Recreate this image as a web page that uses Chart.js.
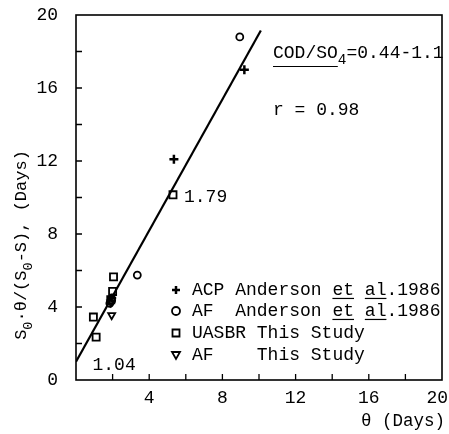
<!DOCTYPE html>
<html>
<head>
<meta charset="utf-8">
<script src="https://cdn.jsdelivr.net/npm/chart.js@4"></script>
<style>
  html, body { margin: 0; padding: 0; background: #fff; }
  #wrap { width: 449px; height: 434px; }
</style>
</head>
<body>
<div id="wrap"><canvas id="plot" width="449" height="434"></canvas></div>
<script>
// values
const acpX = [1.95, 5.35, 9.2];
const acpY = [4.5, 12.1, 17.0];
const afAndX = [1.85, 1.95, 3.35, 8.95];
const afAndY = [4.2, 4.35, 5.75, 18.8];
const uasbrX = [0.95, 1.1, 1.9, 2.0, 2.05, 5.3];
const uasbrY = [3.45, 2.35, 4.4, 4.85, 5.65, 10.15];
const afStudyX = [1.95, 1.9];
const afStudyY = [3.55, 4.25];
// regression line end points
const fitX = [0, 10.1];
const fitY = [1.0, 19.15];
const xTicks = [4, 8, 12, 16, 20];
const yTicks = [0, 4, 8, 12, 16, 20];

const FONT = "'Liberation Mono', 'DejaVu Sans Mono', monospace";
const pts = (xs, ys) => xs.map((x, i) => ({ x: x, y: ys[i] }));

// little helper for text with subscripts / underlines
function drawRich(ctx, x, y, parts, size, ulOff) {
  let cx = x;
  const off = ulOff || 0.55;
  parts.forEach(p => {
    const s = p.sub ? size * 0.8 : size;
    ctx.font = s + 'px ' + FONT;
    const dy = p.sub ? size * 0.42 : 0;
    ctx.fillText(p.t, cx, y + dy);
    const w = ctx.measureText(p.t).width;
    if (p.ul) {
      ctx.beginPath();
      ctx.lineWidth = 1.2;
      ctx.moveTo(cx, y + size * off);
      ctx.lineTo(cx + w, y + size * off);
      ctx.stroke();
    }
    cx += w;
  });
  return cx - x;
}
function richWidth(ctx, parts, size) {
  let w = 0;
  parts.forEach(p => {
    ctx.font = (p.sub ? size * 0.8 : size) + 'px ' + FONT;
    w += ctx.measureText(p.t).width;
  });
  return w;
}

function symbol(ctx, kind, x, y) {
  ctx.save();
  ctx.strokeStyle = '#000';
  ctx.beginPath();
  if (kind === 'cross') {
    ctx.lineWidth = 2.5;
    ctx.moveTo(x - 4, y); ctx.lineTo(x + 4, y);
    ctx.moveTo(x, y - 4); ctx.lineTo(x, y + 4);
  } else if (kind === 'circle') {
    ctx.lineWidth = 1.8;
    ctx.arc(x, y, 4, 0, Math.PI * 2);
  } else if (kind === 'rect') {
    ctx.lineWidth = 1.8;
    ctx.rect(x - 3.5, y - 3.5, 7, 7);
  } else {
    ctx.lineWidth = 1.8;
    ctx.moveTo(x - 4, y - 3); ctx.lineTo(x + 4, y - 3); ctx.lineTo(x, y + 4); ctx.closePath();
  }
  ctx.stroke();
  ctx.restore();
}

const decor = {
  id: 'decor',
  afterDraw(chart) {
    const ctx = chart.ctx;
    const a = chart.chartArea;
    const xs = chart.scales.x, ys = chart.scales.y;
    ctx.save();
    ctx.strokeStyle = '#000';
    ctx.fillStyle = '#000';
    // frame
    ctx.lineWidth = 1.6;
    ctx.strokeRect(a.left, a.top, a.right - a.left, a.bottom - a.top);
    // inward ticks every 2
    ctx.lineWidth = 1.3;
    ctx.beginPath();
    for (let v = 2; v < 20; v += 2) {
      const px = xs.getPixelForValue(v);
      ctx.moveTo(px, a.bottom); ctx.lineTo(px, a.bottom - 6);
      const py = ys.getPixelForValue(v);
      ctx.moveTo(a.left, py); ctx.lineTo(a.left + 6, py);
    }
    ctx.stroke();

    // x tick labels (last one kept inside the canvas)
    ctx.font = '18px ' + FONT;
    ctx.textBaseline = 'middle';
    xTicks.forEach(v => {
      const px = xs.getPixelForValue(v);
      const w = ctx.measureText(String(v)).width;
      ctx.textAlign = 'center';
      const cx = Math.min(px, chart.width - w / 2 - 1);
      ctx.fillText(String(v), cx, a.bottom + 18);
    });

    ctx.textAlign = 'left';
    // annotations
    drawRich(ctx, xs.getPixelForValue(5.9), ys.getPixelForValue(10.0), [{ t: '1.79' }], 18);
    drawRich(ctx, xs.getPixelForValue(0.9), ys.getPixelForValue(0.8), [{ t: '1.04' }], 18);
    drawRich(ctx, 273, 53, [
      { t: 'COD/SO', ul: true },
      { t: '4', sub: true },
      { t: '=0.44-1.1' }
    ], 18, 0.75);
    drawRich(ctx, 273, 110, [{ t: 'r = 0.98' }], 18);

    // legend
    const rows = [
      { k: 'cross', y: 290, parts: [{ t: 'ACP Anderson ' }, { t: 'et', ul: true }, { t: ' ' }, { t: 'al', ul: true }, { t: '.1986' }] },
      { k: 'circle', y: 311, parts: [{ t: 'AF  Anderson ' }, { t: 'et', ul: true }, { t: ' ' }, { t: 'al', ul: true }, { t: '.1986' }] },
      { k: 'rect', y: 333, parts: [{ t: 'UASBR This Study' }] },
      { k: 'tri', y: 355, parts: [{ t: 'AF    This Study' }] }
    ];
    rows.forEach(r => {
      symbol(ctx, r.k, 176, r.y);
      drawRich(ctx, 192, r.y, r.parts, 18, 0.47);
    });

    // x title
    drawRich(ctx, 361, 421, [{ t: '\u03b8 (Days)' }], 17.5);

    // y title, rotated
    const yt = [
      { t: 'S' }, { t: '0', sub: true }, { t: '\u00b7\u03b8/(S' }, { t: '0', sub: true }, { t: '-S), (Days)' }
    ];
    ctx.translate(21, 245);
    ctx.rotate(-Math.PI / 2);
    const w = richWidth(ctx, yt, 17);
    drawRich(ctx, -w / 2, 0, yt, 17);
    ctx.restore();
  }
};

new Chart(document.getElementById('plot'), {
  type: 'scatter',
  data: {
    datasets: [
      {
        type: 'line',
        label: 'fit',
        data: pts(fitX, fitY),
        borderColor: '#000',
        borderWidth: 2.2,
        pointRadius: 0,
        fill: false
      },
      {
        label: 'ACP Anderson et al.1986',
        data: pts(acpX, acpY),
        pointStyle: 'cross',
        pointRadius: 4.5,
        borderColor: '#000',
        borderWidth: 2.5
      },
      {
        label: 'AF Anderson et al.1986',
        data: pts(afAndX, afAndY),
        pointStyle: 'circle',
        pointRadius: 3.5,
        borderColor: '#000',
        backgroundColor: 'rgba(0,0,0,0)',
        borderWidth: 1.8
      },
      {
        label: 'UASBR This Study',
        data: pts(uasbrX, uasbrY),
        pointStyle: 'rect',
        pointRadius: 5,
        borderColor: '#000',
        backgroundColor: 'rgba(0,0,0,0)',
        borderWidth: 1.8
      },
      {
        label: 'AF This Study',
        data: pts(afStudyX, afStudyY),
        pointStyle: 'triangle',
        rotation: 180,
        pointRadius: 4,
        borderColor: '#000',
        backgroundColor: 'rgba(0,0,0,0)',
        borderWidth: 1.8
      }
    ]
  },
  options: {
    responsive: false,
    animation: false,
    layout: { padding: { top: 15, right: 3, left: 0, bottom: 0 } },
    plugins: {
      legend: { display: false },
      tooltip: { enabled: false }
    },
    scales: {
      x: {
        type: 'linear',
        min: 0, max: 20,
        grid: { display: false },
        border: { display: false },
        afterFit: s => { s.height = 54; s.paddingLeft = 0; s.paddingRight = 0; },
        afterBuildTicks: s => { s.ticks = xTicks.map(v => ({ value: v })); },
        ticks: { display: false }
      },
      y: {
        type: 'linear',
        min: 0, max: 20,
        grid: { display: false },
        border: { display: false },
        afterFit: s => { s.width = 76; s.paddingTop = 0; s.paddingBottom = 0; },
        afterBuildTicks: s => { s.ticks = yTicks.map(v => ({ value: v })); },
        ticks: {
          color: '#000',
          padding: 10,
          font: { family: FONT, size: 18 },
          callback: v => String(v)
        }
      }
    }
  },
  plugins: [decor]
});
</script>
</body>
</html>
